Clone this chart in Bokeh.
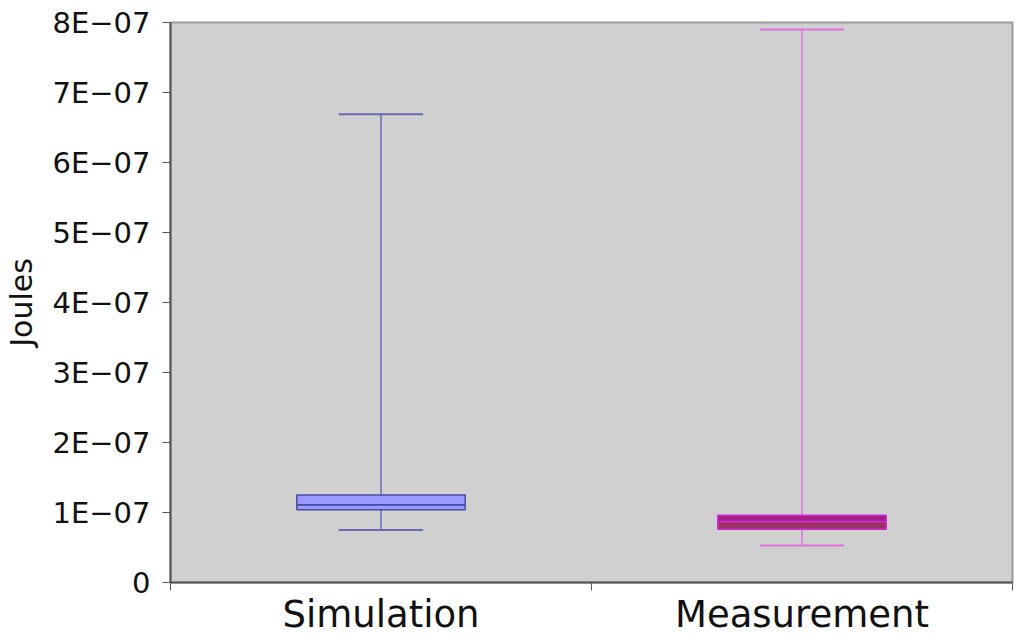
from bokeh.plotting import figure
from bokeh.models import FixedTicker, Range1d, ColumnDataSource
from bokeh.embed import file_html
from bokeh.resources import INLINE

categories = ["Simulation", "Measurement"]
lower = [7.5e-8, 5.3e-8]
q1 = [1.04e-7, 7.6e-8]
median = [1.11e-7, 8.7e-8]
q3 = [1.25e-7, 9.6e-8]
upper = [6.69e-7, 7.9e-7]

y_ticks = [0, 1e-7, 2e-7, 3e-7, 4e-7, 5e-7, 6e-7, 7e-7, 8e-7]
y_tick_labels = ["0", "1E\u221207", "2E\u221207", "3E\u221207", "4E\u221207",
                 "5E\u221207", "6E\u221207", "7E\u221207", "8E\u221207"]

box_fill_low = ["#9999ff", "#993366"]
box_fill_high = ["#9999ff", "#a51f8a"]
box_line = ["#4a4aa6", "#d22ad2"]
whisker_line = ["#6a6ab6", "#e070e0"]

xs = [i + 0.5 for i in range(len(categories))]

src = ColumnDataSource(dict(
    x=xs, lower=lower, q1=q1, median=median, q3=q3, upper=upper,
    fl=box_fill_low, fh=box_fill_high, bl=box_line, wl=whisker_line,
    cl=[x - 0.1 for x in xs], cr=[x + 0.1 for x in xs],
))

p = figure(width=1016, height=638, output_backend="svg", toolbar_location=None,
           x_range=Range1d(0, len(categories)), y_range=Range1d(0, 8e-7),
           min_border_left=170, min_border_right=4, min_border_top=22,
           min_border_bottom=55)

p.background_fill_color = "#d0d0d0"
p.border_fill_color = "white"
p.outline_line_color = "#9a9a9a"
p.outline_line_width = 2
p.xgrid.visible = False
p.ygrid.visible = False

# whiskers
p.segment(x0="x", y0="q3", x1="x", y1="upper", source=src, line_color="wl", line_width=1.5)
p.segment(x0="x", y0="lower", x1="x", y1="q1", source=src, line_color="wl", line_width=1.5)
p.segment(x0="cl", y0="upper", x1="cr", y1="upper", source=src, line_color="wl", line_width=2)
p.segment(x0="cl", y0="lower", x1="cr", y1="lower", source=src, line_color="wl", line_width=2)

# boxes
p.vbar(x="x", width=0.4, bottom="q1", top="median", source=src,
       fill_color="fl", line_color="bl", line_width=1.5)
p.vbar(x="x", width=0.4, bottom="median", top="q3", source=src,
       fill_color="fh", line_color="bl", line_width=1.5)

# y axis
ya = p.yaxis[0]
ya.ticker = FixedTicker(ticks=y_ticks, minor_ticks=[])
ya.major_label_overrides = {t: l for t, l in zip(y_ticks, y_tick_labels)}
ya.axis_label = "Joules"
ya.axis_label_text_font = "DejaVu Sans"
ya.axis_label_text_font_size = "30px"
ya.axis_label_text_font_style = "normal"
ya.axis_label_text_color = "#111111"
ya.axis_label_standoff = 11
ya.major_label_text_font = "DejaVu Sans"
ya.major_label_text_font_size = "29px"
ya.major_label_text_color = "#111111"
ya.major_label_standoff = 12
ya.major_tick_out = 8
ya.major_tick_in = 0
ya.major_tick_line_color = "#555555"
ya.axis_line_color = "#555555"
ya.axis_line_width = 2
ya.minor_tick_line_color = None

# x axis
xa = p.xaxis[0]
xa.ticker = FixedTicker(ticks=xs, minor_ticks=[float(i) for i in range(len(categories) + 1)])
xa.major_label_overrides = {x: c for x, c in zip(xs, categories)}
xa.major_label_text_font = "DejaVu Sans"
xa.major_label_text_font_size = "37px"
xa.major_label_text_color = "#111111"
xa.major_label_standoff = 2
xa.major_tick_out = 0
xa.major_tick_in = 0
xa.major_tick_line_color = None
xa.minor_tick_out = 8
xa.minor_tick_in = 0
xa.minor_tick_line_color = "#555555"
xa.axis_line_color = "#555555"
xa.axis_line_width = 2

open("out.html", "w").write(file_html(p, INLINE))
